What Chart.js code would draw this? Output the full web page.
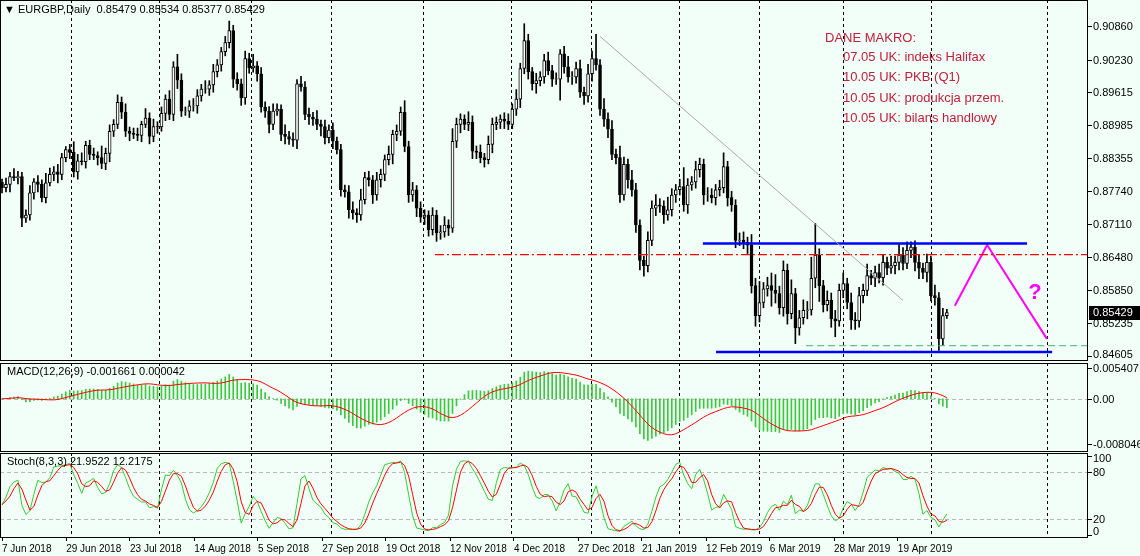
<!DOCTYPE html>
<html>
<head>
<meta charset="utf-8">
<script src="https://cdn.jsdelivr.net/npm/chart.js@4.4.1/dist/chart.umd.min.js"></script>
<style>
  body { margin: 0; background: #f2fff9; width: 1140px; height: 556px; overflow: hidden; }
  canvas { position: absolute; left: 0; }
  #main { top: 0; }
  #macd { top: 361px; }
  #stoch { top: 452px; }
</style>
</head>
<body>
<canvas id="main" width="1140" height="361"></canvas>
<canvas id="macd" width="1140" height="91"></canvas>
<canvas id="stoch" width="1140" height="104"></canvas>
<script>
/* ---------- DATA (EURGBP daily, prices in pips) ---------- */
const closes = [
  8780,8786,8801,8799,8801,8722,8728,8770,8791,8786, 8761,8789,8805,8810,8805,8837,8852,8847,8810,8831,
  8829,8860,8843,8841,8837,8826,8845,8887,8900,8942, 8923,8887,8883,8881,8879,8900,8912,8877,8896,8895,
  8921,8948,8919,9009,8984,8925,8925,8935,8935,8954, 8967,8967,8975,9000,9013,9038,9055,9078,8986,8977,
  8950,
  9025,9007,9011,8996,8933,8925,8900,8925,8929,8881, 8877,8872,8870,8977,8971,8919,8914,8910,8900,8896,
  8875,8889,8868,8852,8776,8772,8738,8732,8728,8757, 8799,8795,8766,8795,8805,8833,8843,8881,8887,8923,
  8858,8766,8776,8741,8724,8728,8700,8728,8694,8696, 8709,8703,8868,8900,8910,8900,8904,8849,
  8847,8837,8833,8862,8900,8904,8910,8906,8900,8929, 8948,9006,9059,9000,8977,8983,8990,9021,9002,8986,
  8986,9034,9009,8990,8990,9006,8961,8954,8996,9025, 9013,8929,8910,8891,8843,8837,8766,8824,8795,8776,
  8709,8642,8632,8680,8741,8747,8745,8728,8738,8766, 8776,8782,8747,8785,8791,8814,8824,8766,8766,
  8761,8776,8780,8820,8761,8747,8680,8680,8676,8671, 8594,8537,8562,8588,8594,8585,8579,8552,8623,8541,
  8579,8514,8533,8547,8548,8608,8652,8594,8558,8566, 8531,8527,8585,8598,8562,8529,8527,8575,8585,8613,
  8608,8619,8609,8638,8627,8632,8638,8652,8636,8661, 8667,8638,8627,8619,8638,8575,8571,8493,8537,8542.9
];
const wickHi = [
  6,12,8,15,10,8,10,14,6,12, 9,18,12,10,14,8,6,10,20,12, 15,8,10,12,7,22,10,12,9,14,
  10,16,8,10,12,6,18,10,14,9, 12,8,16,10,24,12,8,10,14,12, 9,16,8,14,10,8,12,18,10,12, 9,
  14,10,22,8,12,10,9,14,10,8, 18,10,12,8,14,10,12,9,16,8, 12,10,14,8,10,9,12,15,8,20,
  10,12,8,14,10,9,16,8,12,10, 22,10,14,8,12,10,8,14,9,12, 16,10,24,12,10,8,20,12,
  10,14,8,16,12,10,8,12,14,10, 18,10,32,12,8,14,10,12,16,10, 12,8,14,20,10,12,16,10,18,14,
  46,10,20,12,16,10,22,14,10,18, 12,10,8,16,14,20,12,10,24,12, 10,14,36,12,10,16,12,10,14,
  12,10,14,26,10,12,10,14,16,10, 20,14,40,12,16,24,30,14,18,12, 26,10,14,20,16,40,60,12,10,18,
  14,16,12,20,10,18,14,16,12,22, 10,12,16,14,10,18,12,20,14,16, 10,12,14,10,16,12,20,10,14,6
];
const wickLo = [
  10,8,14,6,12,16,8,10,12,14, 8,10,6,12,16,10,8,12,10,14, 6,12,10,8,14,10,12,16,10,8,
  12,10,14,8,10,12,6,14,10,12, 8,14,10,12,16,10,8,12,10,14, 10,8,12,14,10,12,8,10,16,12, 14,
  12,10,8,14,10,12,16,10,8,12, 14,10,12,16,8,10,14,12,10,18, 12,10,14,8,12,10,16,12,14,10,
  8,12,16,10,14,12,10,18,12,8, 10,14,12,16,10,14,12,10,16,12, 10,14,8,12,16,10,12,14,
  12,10,14,8,16,10,12,14,10,8, 12,16,10,14,12,18,10,12,8,14, 10,40,12,10,14,12,10,16,12,14,
  10,12,14,16,10,12,14,10,16,12, 14,18,20,12,10,14,12,16,10,12, 14,10,12,16,10,12,14,18,12,
  10,14,12,10,16,12,14,10,12,16, 14,20,12,10,14,30,18,12,16,20, 10,30,14,12,16,10,18,30,14,12,
  16,30,10,14,12,18,16,12,14,10, 12,16,10,14,12,10,16,14,12,10, 14,16,20,12,18,10,14,22,12,5
];
const firstOpen = 8790;

// axis ticks
const priceTicks = [0.90860, 0.90230, 0.89615, 0.88985, 0.88355, 0.87740, 0.87110, 0.86480, 0.85850, 0.85235, 0.84605];
const macdTicks = [0.005407, 0, -0.008046];
const stochTicks = [100, 80, 20, 0];
const dateLabels = ["7 Jun 2018","29 Jun 2018","23 Jul 2018","14 Aug 2018","5 Sep 2018","27 Sep 2018","19 Oct 2018",
  "12 Nov 2018","4 Dec 2018","27 Dec 2018","21 Jan 2019","12 Feb 2019","6 Mar 2019","28 Mar 2019","19 Apr 2019"];
const dateIdx = [0,16.1,32.1,48.2,64.2,80.3,96.3,112.4,128.4,144.5,160.5,176.6,192.6,208.7,224.7];
const monthIdx = [17.3,39.4,62.5,82.5,105.6,127.7,147.7,169.8,189.9,210.9,233,262.1];

// drawn objects (bar index, price)
const trendLine = [[150,0.9067],[226,0.8566]];
const redLevel = [[108.6,0.8653],[272.4,0.8653]];
const blueTop = [[175.8,0.8674],[257.1,0.8674]];
const blueBottom = [[179.1,0.8468],[263.4,0.8468]];
const greenLevel = [[201.7,0.8480],[272.4,0.8480]];
const magentaPath = [[239,0.8556],[247.1,0.8671],[262.1,0.8493]];
const macroLines = ["07.05 UK: indeks Halifax","10.05 UK: PKB (Q1)","10.05 UK: produkcja przem.","10.05 UK: bilans handlowy"];

/* ---------- DERIVED ---------- */
const N = closes.length;
const C = closes.map(v => v / 10000);
const O = closes.map((v, i) => (i ? closes[i - 1] : firstOpen) / 10000);
const H = C.map((c, i) => Math.max(c, O[i]) + (wickHi[i] || 10) / 10000);
const L = C.map((c, i) => Math.min(c, O[i]) - (wickLo[i] || 10) / 10000);

function ema(arr, p) {
  const k = 2 / (p + 1); let e = arr[0];
  return arr.map(v => (e = v * k + e * (1 - k)));
}
const e12 = ema(C, 12), e26 = ema(C, 26);
const macd = C.map((_, i) => e12[i] - e26[i]);
const signal = macd.map((_, i) => {
  const s = macd.slice(Math.max(0, i - 8), i + 1);
  return s.reduce((a, b) => a + b, 0) / s.length;
});
const rawNum = [], rawDen = [];
for (let i = 0; i < N; i++) {
  const lo = Math.min(...L.slice(Math.max(0, i - 7), i + 1));
  const hi = Math.max(...H.slice(Math.max(0, i - 7), i + 1));
  rawNum.push(C[i] - lo); rawDen.push(hi - lo);
}
const stochMain = rawNum.map((_, i) => {
  const a = Math.max(0, i - 2);
  const n = rawNum.slice(a, i + 1).reduce((x, y) => x + y, 0);
  const d = rawDen.slice(a, i + 1).reduce((x, y) => x + y, 0);
  return d ? n / d * 100 : 50;
});
const stochSig = stochMain.map((_, i) => {
  const s = stochMain.slice(Math.max(0, i - 2), i + 1);
  return s.reduce((a, b) => a + b, 0) / s.length;
});

/* ---------- COMMON ---------- */
const FONT = '"Liberation Sans", Arial, sans-serif';
Chart.defaults.font.family = FONT;
Chart.defaults.font.size = 11;
Chart.defaults.color = '#000';
const X_MIN = -0.5, X_MAX = 272.4;
const pts = a => a.map(p => ({ x: p[0], y: p[1] }));

// panel frame, month separators and right-hand price axis labels
function frame(tickVals, fmt) {
  return {
    id: 'frame',
    beforeDraw(chart) {
      const c = chart.ctx, a = chart.chartArea, x = chart.scales.x;
      c.save();
      c.strokeStyle = '#000'; c.lineWidth = 1; c.setLineDash([3, 3]);
      monthIdx.forEach(m => {
        const px = Math.round(x.getPixelForValue(m)) + 0.5;
        c.beginPath(); c.moveTo(px, a.top); c.lineTo(px, a.bottom); c.stroke();
      });
      c.restore();
    },
    afterDraw(chart) {
      const c = chart.ctx, a = chart.chartArea, y = chart.scales.y;
      c.save();
      c.strokeStyle = '#000'; c.lineWidth = 1;
      c.strokeRect(a.left + 0.5, a.top + 0.5, a.right - a.left - 1, a.bottom - a.top - 1);
      c.fillStyle = '#000'; c.font = '11px ' + FONT; c.textBaseline = 'middle';
      tickVals.forEach(v => {
        const py = Math.round(y.getPixelForValue(v)) + 0.5;
        c.beginPath(); c.moveTo(a.right, py); c.lineTo(a.right + 4, py); c.stroke();
        const ly = Math.min(Math.max(py, a.top + 6), a.bottom - 6);
        c.fillText(fmt(v), a.right + 5, ly);
      });
      c.restore();
    }
  };
}
const levelLines = (vals) => ({
  id: 'levels',
  beforeDatasetsDraw(chart) {
    const c = chart.ctx, a = chart.chartArea, y = chart.scales.y;
    c.save(); c.strokeStyle = '#b8b8b8'; c.setLineDash([4, 3]);
    vals.forEach(v => {
      const py = Math.round(y.getPixelForValue(v)) + 0.5;
      c.beginPath(); c.moveTo(a.left, py); c.lineTo(a.right, py); c.stroke();
    });
    c.restore();
  }
});
function yAxis(min, max) {
  return {
    position: 'right', min, max,
    afterFit: s => { s.width = 52; },
    ticks: { display: false },
    grid: { display: false },
    border: { display: false }
  };
}
const baseOpts = {
  responsive: false, animation: false, devicePixelRatio: 1,
  layout: { padding: 0 },
  plugins: { legend: { display: false }, tooltip: { enabled: false } }
};
const hiddenX = { type: 'linear', min: X_MIN, max: X_MAX, display: false, offset: false };

/* ---------- MAIN PRICE PANEL ---------- */
const idx = [...Array(N).keys()];
const overlay = (data, color, width, dash) => ({
  type: 'line', data: pts(data), borderColor: color, borderWidth: width,
  borderDash: dash || [], pointRadius: 0, tension: 0, order: 0
});
const mainText = {
  id: 'mainText',
  afterDraw(chart) {
    const c = chart.ctx, y = chart.scales.y, x = chart.scales.x;
    c.save();
    c.fillStyle = '#000'; c.font = '11px ' + FONT; c.textBaseline = 'middle';
    c.fillText('\u25BC EURGBP,Daily  0.85479 0.85534 0.85377 0.85429', 4, 10);
    c.fillStyle = '#c0203c'; c.font = '13px ' + FONT;
    c.fillText('DANE MAKRO:', 825, 38);
    macroLines.forEach((t, i) => c.fillText(t, 843, 57 + i * 20.5));
    c.fillStyle = '#ff00ff'; c.font = 'bold 22px ' + FONT; c.textAlign = 'center';
    c.fillText('?', x.getPixelForValue(259.1), 293);
    // current price tag
    const py = Math.round(y.getPixelForValue(C[N - 1]));
    c.fillStyle = '#000'; c.fillRect(1089, py - 7, 51, 14);
    c.fillStyle = '#fff'; c.font = '11px ' + FONT; c.textAlign = 'left';
    c.fillText(C[N - 1].toFixed(5), 1093, py);
    c.restore();
  }
};
new Chart(document.getElementById('main'), {
  type: 'bar',
  data: {
    datasets: [
      overlay(trendLine, '#a8a8a8', 1),
      overlay(redLevel, '#ff0000', 1.2, [9, 3, 2, 3]),
      overlay(greenLevel, '#3cb371', 1, [7, 4]),
      overlay(blueTop, '#0000ff', 2.5),
      overlay(blueBottom, '#0000ff', 2.5),
      overlay(magentaPath, '#ff00ff', 2),
      {
        data: idx.map(i => ({ x: i, y: [L[i], H[i]] })),
        backgroundColor: '#000', barThickness: 1, grouped: false, order: 2
      },
      {
        data: idx.map(i => ({ x: i, y: [O[i], Math.abs(C[i] - O[i]) < 0.00003 ? O[i] + 0.00003 : C[i]] })),
        backgroundColor: idx.map(i => C[i] >= O[i] ? '#ffffff' : '#000000'),
        borderColor: '#000', borderWidth: 1, borderSkipped: false,
        barThickness: 3, grouped: false, order: 1
      }
    ]
  },
  options: {
    ...baseOpts,
    scales: { x: hiddenX, y: yAxis(0.84510, 0.91360) }
  },
  plugins: [frame(priceTicks, v => v.toFixed(5)), mainText]
});

/* ---------- MACD PANEL ---------- */
const labelPlugin = (text) => ({
  id: 'lbl',
  afterDraw(chart) {
    const c = chart.ctx;
    c.save(); c.fillStyle = '#000'; c.font = '11px ' + FONT; c.textBaseline = 'middle';
    c.fillText(text, 7, chart.chartArea.top + 9);
    c.restore();
  }
});
new Chart(document.getElementById('macd'), {
  type: 'bar',
  data: {
    datasets: [
      { type: 'line', data: idx.map(i => ({ x: i, y: signal[i] })), borderColor: '#ff0000', borderWidth: 1, pointRadius: 0, order: 0 },
      { data: idx.map(i => ({ x: i, y: macd[i] })), backgroundColor: '#3cc83c', barThickness: 1, order: 1 }
    ]
  },
  options: {
    ...baseOpts,
    layout: { padding: { top: 2, bottom: 0 } },
    scales: { x: hiddenX, y: yAxis(-0.00937, 0.0063) }
  },
  plugins: [frame(macdTicks, v => v === 0 ? '0.00' : v.toFixed(6)), levelLines([0]), labelPlugin('MACD(12,26,9) -0.001661 0.000042')]
});

/* ---------- STOCHASTIC PANEL ---------- */
new Chart(document.getElementById('stoch'), {
  type: 'line',
  data: {
    datasets: [
      { data: idx.map(i => ({ x: i, y: stochSig[i] })), borderColor: '#ff0000', borderWidth: 1, pointRadius: 0 },
      { data: idx.map(i => ({ x: i, y: stochMain[i] })), borderColor: '#32cd32', borderWidth: 1, pointRadius: 0 }
    ]
  },
  options: {
    ...baseOpts,
    layout: { padding: { top: 1, bottom: 0 } },
    scales: {
      x: {
        type: 'linear', min: X_MIN, max: X_MAX, offset: false,
        afterFit: s => { s.height = 18; },
        afterBuildTicks: s => { s.ticks = dateIdx.map(v => ({ value: v })); },
        ticks: {
          autoSkip: false, maxRotation: 0, align: 'start', padding: 2, font: { size: 10 },
          callback: v => dateLabels[dateIdx.indexOf(v)] || ''
        },
        grid: { drawOnChartArea: false, drawTicks: true, tickLength: 3, color: '#000' },
        border: { display: false }
      },
      y: yAxis(-3.75, 104)
    }
  },
  plugins: [frame(stochTicks, v => String(v)), levelLines([20, 80]), labelPlugin('Stoch(8,3,3) 21.9522 12.2175')]
});
</script>
</body>
</html>
